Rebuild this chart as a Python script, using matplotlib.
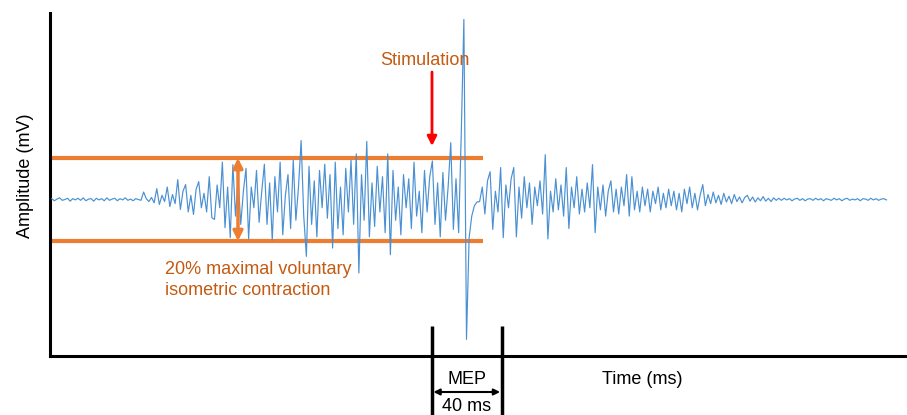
import numpy as np
import matplotlib
matplotlib.use("Agg")
import matplotlib.pyplot as plt

plt.rcParams['font.family'] = ['Liberation Sans', 'DejaVu Sans']

# ---- data: EMG trace (mV), sampled every 1.5 ms starting at t = 1 ms ----
t_start_ms = 1.0
t_step_ms = 1.5

baseline_pre = [0.02, -0.03, 0.01, 0.04, -0.02, 0.00, 0.03, -0.04, 0.02, -0.01,
                0.03, -0.02, 0.04, -0.03, 0.01, 0.02, -0.04, 0.03, -0.01, 0.02,
                -0.03, 0.04, -0.02, 0.01, 0.03, -0.03, 0.02, -0.01, 0.04, -0.02,
                0.01, -0.03, 0.02, 0.00, -0.02, 0.18, 0.02, -0.05]

onset = [0.05, -0.08, 0.26, -0.12, 0.10, -0.05, 0.30, -0.17, 0.12, -0.10,
         0.48, -0.24, 0.20, 0.36, -0.30, 0.10, -0.36, 0.25, 0.43, -0.20,
         0.15, -0.30, 0.55, -0.44, -0.48, 0.35, -0.20, 0.90, -0.68, 0.30]

contraction = [-0.92, 0.84, -0.40, 0.50, -0.60, 0.20, 0.75, -0.95, 0.30, -0.20,
               0.70, -0.55, 0.20, 0.85, -0.60, 0.40, -0.98, 0.55, -0.30, 0.90,
               -0.85, 0.10, 0.60, -0.70, 0.95, -0.50, 0.30, 1.42, -0.40, -1.37,
               0.80, -0.60, 0.45, -0.90, 0.70, -0.20, 0.85, -0.45, 0.60, -1.17,
               0.90, -0.70, 0.30, -0.85, 0.75, -0.30, 0.95, -0.60, 1.10, -1.77,
               0.60, -0.50, 1.40, -0.90, 0.40, -0.65, 0.80, -0.30, 0.55, -0.80,
               1.10, -1.33, 0.70, -0.50, 0.30, -0.85, 0.60, -0.20, 0.50, -0.70,
               0.90, -0.40, 0.20, -0.80, 0.70, -0.30, 0.55, 0.93, -0.60, 0.40,
               -0.90, 0.65, -0.50, 0.30, 1.37, -0.72, 0.50, -0.80]

mep = [1.57, 4.34, -3.37, -0.92, -0.40, -0.15, -0.06, -0.05]

post = [0.30, -0.35, 0.45, 0.67, -0.72, 0.20, -0.30, 0.77, -0.92, 0.35,
        -0.20, 0.50, 0.77, -0.90, 0.30, -0.45, 0.55, -0.20, 0.40, -0.60,
        0.30, -0.15, 0.45, -0.35, 1.08, -0.95, 0.20, -0.30, 0.50, -0.25,
        0.35, -0.40, 0.77, -0.70, 0.30, -0.20, 0.55, -0.35, 0.25, -0.30,
        0.40, -0.20, 0.84, -0.80, 0.30, -0.25, 0.35, -0.40, 0.20, 0.45,
        -0.30, 0.25, -0.35, 0.30, -0.15, 0.60, -0.40, 0.55, -0.25, 0.20,
        -0.30, 0.30, -0.15, 0.25, -0.30, 0.20, -0.10, 0.30, -0.25, 0.15,
        -0.20, 0.25, -0.15, 0.20, -0.25, 0.15, -0.30, 0.25, -0.10, 0.30,
        -0.20, 0.15, -0.25, 0.10]

decay = [0.36, -0.15, 0.12, -0.10, 0.18, -0.08, 0.10, -0.12, 0.15, -0.06,
         0.08, -0.10, 0.12, -0.05, 0.06, -0.08, 0.05, 0.10, -0.04, 0.06,
         -0.06, 0.04, -0.03, 0.07, -0.04, 0.03, -0.05, 0.04, -0.02, 0.03]

baseline_post = [-0.02, 0.03, -0.01, 0.02, -0.03, 0.01, 0.03, -0.02, 0.02, -0.03,
                 0.01, 0.02, -0.02, 0.03, -0.01, 0.02, -0.03, 0.02, 0.00, -0.02,
                 0.03, -0.01, 0.02, -0.03, 0.01, 0.03, -0.02, 0.01, -0.01, 0.02,
                 -0.03, 0.02, 0.01, -0.02, 0.03, -0.01, 0.02, -0.02, 0.01, 0.02, -0.01]

band_mV = [1.0, -1.0]          # 20% MVC band
stim_ms = 218.3                # stimulation time
mep_window_ms = [218.3, 258.0] # MEP window (40 ms)
band_end_ms = 247.5

amp = np.array(baseline_pre + onset + contraction + mep + post + decay + baseline_post)
t = t_start_ms + t_step_ms * np.arange(len(amp))

# ---- figure ----
W, H = 907, 415
fig = plt.figure(figsize=(W / 100, H / 100), dpi=100)
ax_l, ax_r, ax_t, ax_b = 50, 907, 13, 356
ax = fig.add_axes([ax_l / W, 1 - ax_b / H, (ax_r - ax_l) / W, (ax_b - ax_t) / H])

px_per_ms = 1.75
px_per_mV = 41.5
y0_px = 199.5
ax.set_xlim(0, (ax_r - ax_l) / px_per_ms)
ax.set_ylim(-(ax_b - y0_px) / px_per_mV, (y0_px - ax_t) / px_per_mV)

def px2t(x):
    return (x - ax_l) / px_per_ms

def py2a(y):
    return (y0_px - y) / px_per_mV

orange = '#ED7D31'
dark_orange = '#C55A11'
fs = 13

# signal
ax.plot(t, amp, color='#4A90D2', lw=0.85, zorder=3)

# band lines
for b in band_mV:
    ax.plot([px2t(52), band_end_ms], [b, b], color=orange, lw=3, solid_capstyle='butt', zorder=2)

# vertical double arrow for band
ax.annotate('', xy=(px2t(238), band_mV[0]), xytext=(px2t(238), band_mV[1]),
            arrowprops=dict(arrowstyle='<|-|>', color=orange, lw=2.5,
                            mutation_scale=14, shrinkA=0, shrinkB=0), zorder=4)

ax.text(px2t(165), py2a(280), '20% maximal voluntary\nisometric contraction',
        color=dark_orange, fontsize=fs, ha='left', va='center', linespacing=1.3)

# stimulation
ax.text(px2t(425), py2a(60), 'Stimulation', color=dark_orange, fontsize=fs,
        ha='center', va='center')
ax.annotate('', xy=(px2t(432), py2a(146)), xytext=(px2t(432), py2a(72)),
            arrowprops=dict(arrowstyle='-|>', color='#FF0000', lw=2,
                            mutation_scale=14, shrinkA=0, shrinkB=0))

# MEP window markers
for tm in mep_window_ms:
    ax.plot([tm, tm], [py2a(326), py2a(415)], color='black', lw=2.5,
            clip_on=False, solid_capstyle='butt')
mid = (mep_window_ms[0] + mep_window_ms[1]) / 2
ax.text(mid, py2a(379), 'MEP', fontsize=fs, ha='center', va='center', clip_on=False)
ax.annotate('', xy=(mep_window_ms[0] + 0.8, py2a(392)), xytext=(mep_window_ms[1] - 0.8, py2a(392)),
            arrowprops=dict(arrowstyle='<|-|>', color='black', lw=1.5,
                            mutation_scale=9, shrinkA=0, shrinkB=0), annotation_clip=False)
ax.text(mid, py2a(406), '40 ms', fontsize=fs, ha='center', va='center', clip_on=False)

ax.text(px2t(642), py2a(379), 'Time (ms)', fontsize=fs, ha='center', va='center', clip_on=False)
fig.text(25 / W, 1 - 176 / H, 'Amplitude (mV)', fontsize=fs, rotation=90,
         ha='center', va='center')

for s in ['top', 'right']:
    ax.spines[s].set_visible(False)
for s in ['left', 'bottom']:
    ax.spines[s].set_linewidth(2.2)
    ax.spines[s].set_color('black')
ax.set_xticks([])
ax.set_yticks([])

fig.savefig('out.png', dpi=100)
